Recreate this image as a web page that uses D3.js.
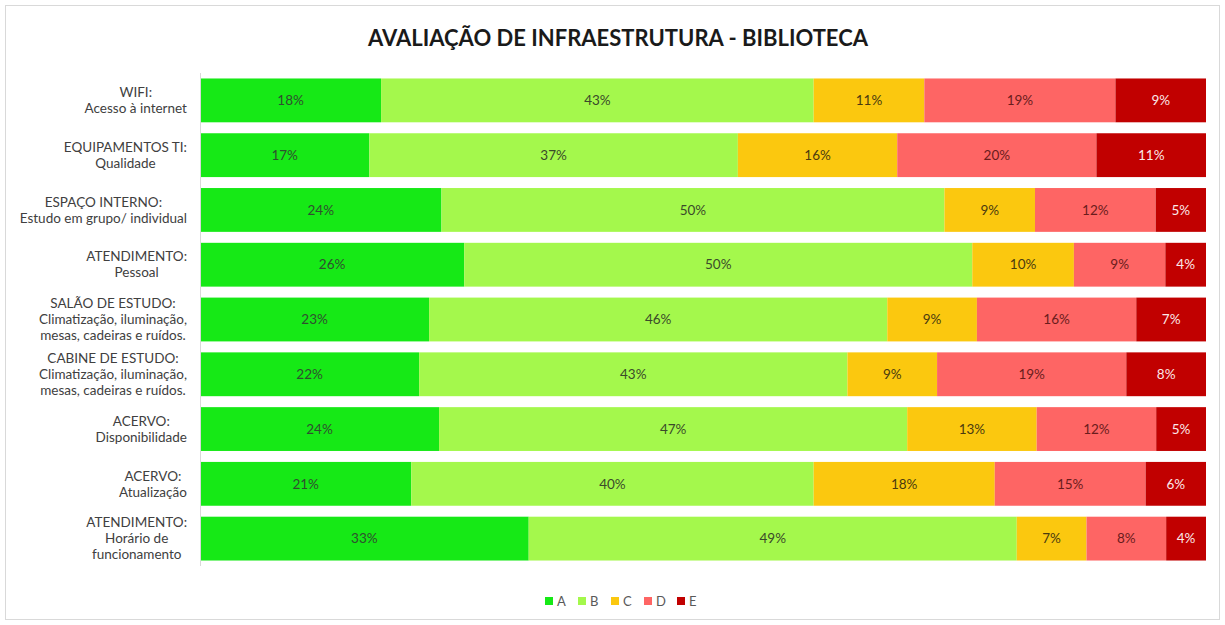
<!DOCTYPE html>
<html>
<head>
<meta charset="utf-8">
<script src="https://cdn.jsdelivr.net/npm/d3@7"></script>
<style>
    body { margin: 0; background: #fff; }
    svg { font-family: Lato, "Open Sans", sans-serif; }
    .axis path { stroke: #d9d9d9; }
</style>
</head>
<body>
<div id="chart"></div>
<script>
// categories (one line per "\n")
const categories = [
    'WIFI:\nAcesso à internet',
    'EQUIPAMENTOS TI:\nQualidade',
    'ESPAÇO INTERNO:\nEstudo em grupo/ individual',
    'ATENDIMENTO:\nPessoal',
    'SALÃO DE ESTUDO:\nClimatização, iluminação,\nmesas, cadeiras e ruídos.',
    'CABINE DE ESTUDO:\nClimatização, iluminação,\nmesas, cadeiras e ruídos.',
    'ACERVO:\nDisponibilidade',
    'ACERVO:\nAtualização',
    'ATENDIMENTO:\nHorário de\nfuncionamento',
];
const seriesNames = ['A', 'B', 'C', 'D', 'E'];
const valuesA = [18, 17, 24, 26, 23, 22, 24, 21, 33];
const valuesB = [43, 37, 50, 50, 46, 43, 47, 40, 49];
const valuesC = [11, 16, 9, 10, 9, 9, 13, 18, 7];
const valuesD = [19, 20, 12, 9, 16, 19, 12, 15, 8];
const valuesE = [9, 11, 5, 4, 7, 8, 5, 6, 4];
const chartTitle = 'AVALIAÇÃO DE INFRAESTRUTURA - BIBLIOTECA';

const colors = ['#16e916', '#a4f84c', '#fbc80f', '#fe6564', '#c10000'];
const labelColors = ['#2f4f2f', '#3a4a2a', '#4a3a10', '#6a1c1c', '#fbe9e9'];

const width = 1225, height = 625;
const margin = { left: 200, right: 19, top: 73, bottom: 59 };

const svg = d3.select('#chart').append('svg')
    .attr('width', width)
    .attr('height', height);

// outer frame
svg.append('rect')
    .attr('x', 5.5).attr('y', 5.5)
    .attr('width', width - 11).attr('height', height - 11)
    .attr('fill', '#fff').attr('stroke', '#d9d9d9');

svg.append('text')
    .attr('x', 618).attr('y', 46)
    .attr('text-anchor', 'middle')
    .attr('font-size', 22).attr('font-weight', 'bold')
    .attr('fill', '#1a1a1a')
    .text(chartTitle);

const table = categories.map((c, i) => ({
    category: c,
    A: valuesA[i], B: valuesB[i], C: valuesC[i], D: valuesD[i], E: valuesE[i],
}));

const stacked = d3.stack().keys(seriesNames).offset(d3.stackOffsetExpand)(table);

const x = d3.scaleLinear().domain([0, 1]).range([margin.left, width - margin.right]);
const y = d3.scaleBand().domain(categories)
    .range([margin.top, height - margin.bottom])
    .paddingInner(0.2).paddingOuter(0.1);

const g_series = svg.append('g').selectAll('g')
    .data(stacked)
    .join('g')
    .attr('fill', (d, i) => colors[i]);

g_series.selectAll('rect')
    .data(d => d)
    .join('rect')
    .attr('x', d => x(d[0]))
    .attr('y', d => y(d.data.category))
    .attr('width', d => x(d[1]) - x(d[0]))
    .attr('height', y.bandwidth());

// --- data labels
stacked.forEach((s, si) => {
    svg.append('g').selectAll('text')
        .data(s)
        .join('text')
        .attr('x', d => (x(d[0]) + x(d[1])) / 2)
        .attr('y', d => y(d.data.category) + y.bandwidth() / 2)
        .attr('dy', '0.35em')
        .attr('text-anchor', 'middle')
        .attr('font-size', 13.5)
        .attr('fill', labelColors[si])
        .text(d => d.data[s.key] + '%');
});

// --- y axis with multi-line labels
const yAxis = d3.axisLeft(y).tickSize(0).tickSizeOuter(0).tickPadding(0).tickFormat('');
const yAxisView = svg.append('g')
    .attr('class', 'axis')
    .attr('transform', `translate(${margin.left},0)`)
    .call(yAxis);
yAxisView.select('.domain').attr('d', `M0.5,${margin.top}V${height - margin.bottom}`);

const lineH = 16;
yAxisView.selectAll('.tick').each(function(cat) {
    const lines = cat.split('\n');
    const txt = d3.select(this).select('text')
        .attr('fill', '#404040')
        .attr('font-size', 13.5)
        .attr('font-family', 'Lato, sans-serif')
        .attr('text-anchor', 'middle')
        .attr('dy', null);
    lines.forEach((l, i) => {
        txt.append('tspan')
            .attr('x', 0)
            .attr('y', (i - (lines.length - 1) / 2) * lineH)
            .attr('dy', '0.35em')
            .text(l);
    });
    // centre each block so its right edge sits left of the axis
    const w = txt.node().getBBox().width;
    txt.attr('transform', `translate(${-13 - w / 2},0)`);
});

// --- legend
const legend = svg.append('g').attr('transform', 'translate(545,601)');
const item = legend.selectAll('g')
    .data(seriesNames)
    .join('g')
    .attr('transform', (d, i) => `translate(${i * 33},0)`);
item.append('rect')
    .attr('x', 0).attr('y', -4)
    .attr('width', 8).attr('height', 8)
    .attr('fill', (d, i) => colors[i]);
item.append('text')
    .attr('x', 12).attr('dy', '0.35em')
    .attr('font-size', 13)
    .attr('fill', '#595959')
    .text(d => d);
</script>
</body>
</html>
